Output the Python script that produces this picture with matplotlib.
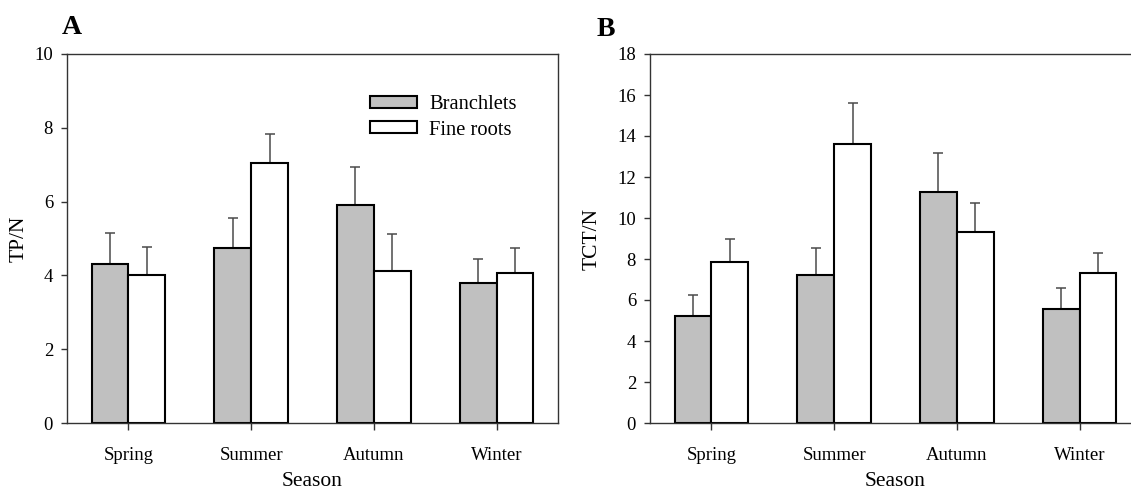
import matplotlib
matplotlib.use("Agg")
import matplotlib.pyplot as plt
import numpy as np

plt.rcParams['font.family'] = ['Liberation Serif', 'DejaVu Serif']

seasons = ["Spring", "Summer", "Autumn", "Winter"]

# panel A, TP/N
tp_branch = [4.30, 4.73, 5.91, 3.79]
tp_branch_se = [0.86, 0.82, 1.02, 0.65]
tp_roots = [4.01, 7.04, 4.13, 4.06]
tp_roots_se = [0.77, 0.79, 0.98, 0.69]

# panel B, TCT/N
tct_branch = [5.20, 7.23, 11.25, 5.58]
tct_branch_se = [1.04, 1.32, 1.90, 1.01]
tct_roots = [7.85, 13.62, 9.32, 7.33]
tct_roots_se = [1.14, 1.97, 1.39, 0.96]

W, H = 1131, 490
fig = plt.figure(figsize=(W / 100, H / 100), dpi=100)

# axes boxes in pixels
axA = fig.add_axes([67 / W, 1 - 423 / H, 491 / W, 369 / H])
axB = fig.add_axes([650 / W, 1 - 423 / H, 491 / W, 369 / H])

x = np.arange(1, 5)
wid = 0.3
err_kw = dict(ecolor="#4a4a4a", elinewidth=1.1, capsize=3.5, capthick=1.1, zorder=1)


def panel(ax, left_px, b, bse, r, rse, ymax, ylabel, ylab_x, letter, letter_x, letter_y):
    ax.bar(x - wid / 2, b, wid, color="#c0c0c0", edgecolor="black", linewidth=1.5,
           yerr=[np.zeros(4), bse], error_kw=err_kw, label="Branchlets", zorder=2)
    ax.bar(x + wid / 2, r, wid, color="white", edgecolor="black", linewidth=1.5,
           yerr=[np.zeros(4), rse], error_kw=err_kw, label="Fine roots", zorder=2)
    ax.set_xlim(0.5, 4.5)
    ax.set_ylim(0, ymax)
    ax.set_yticks(np.arange(0, ymax + 1, 2))
    ax.set_xticks(x)
    ax.set_xticklabels(seasons)
    ax.tick_params(axis="y", direction="out", length=4, width=1, color="#333333",
                   labelsize=13.5, pad=6)
    ax.tick_params(axis="x", direction="out", length=5, width=1, color="#333333",
                   labelsize=13.5, pad=12)
    for s in ax.spines.values():
        s.set_color("#333333")
        s.set_linewidth(1)
    ax.set_xlabel("Season", fontsize=15.5, labelpad=6)
    ax.set_ylabel(ylabel, fontsize=15.5)
    # label anchor is the right edge of the rotated text
    ax.yaxis.set_label_coords((ylab_x - left_px) / 491, 0.5)
    fig.text(letter_x / W, 1 - letter_y / H, letter, fontsize=20, fontweight="bold",
             ha="left", va="center")


panel(axA, 67, tp_branch, tp_branch_se, tp_roots, tp_roots_se, 10, "TP/N", 29, "A", 62, 27)
panel(axB, 650, tct_branch, tct_branch_se, tct_roots, tct_roots_se, 18, "TCT/N", 602, "B", 597, 30)

axA.legend(loc="upper left", bbox_to_anchor=(0.6, 0.91), frameon=False,
           fontsize=14.8, handlelength=2.3, handleheight=0.5, handletextpad=0.6,
           labelspacing=0.3, borderaxespad=0)

fig.savefig("out.png", dpi=100)
